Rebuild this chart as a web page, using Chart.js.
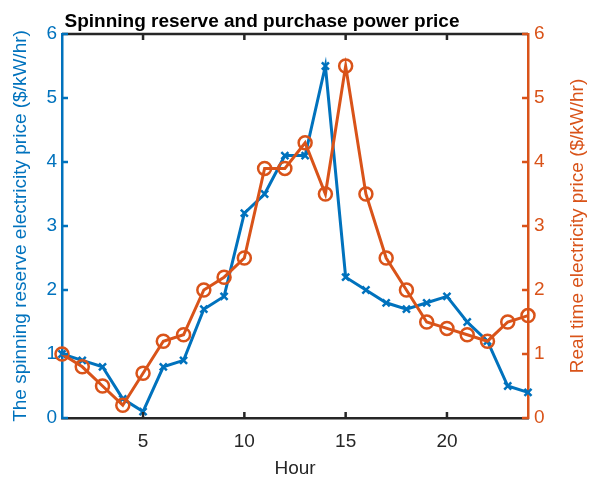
<!DOCTYPE html>
<html>
<head>
<meta charset="utf-8">
<script src="https://cdn.jsdelivr.net/npm/chart.js@4.4.0/dist/chart.umd.min.js"></script>
<style>
  body { margin: 0; background: #fff; }
  #wrap { width: 592px; height: 485px; }
</style>
</head>
<body>
<div id="wrap"><canvas id="chart" width="592" height="485"></canvas></div>
<script>
// data
const hours = [1, 2, 3, 4, 5, 6, 7, 8, 9, 10, 11, 12, 13, 14, 15, 16, 17, 18, 19, 20, 21, 22, 23, 24];
const spinningReserve = [1.0, 0.9, 0.8, 0.3, 0.1, 0.8, 0.9, 1.7, 1.9, 3.2, 3.5, 4.1, 4.1, 5.5, 2.2, 2.0, 1.8, 1.7, 1.8, 1.9, 1.5, 1.2, 0.5, 0.4];
const realTimePrice = [1.0, 0.8, 0.5, 0.2, 0.7, 1.2, 1.3, 2.0, 2.2, 2.5, 3.9, 3.9, 4.3, 3.5, 5.5, 3.5, 2.5, 2.0, 1.5, 1.4, 1.3, 1.2, 1.5, 1.6];
const hourTicks = [5, 10, 15, 20];
const priceTicks = [0, 1, 2, 3, 4, 5, 6];

const chartTitle = 'Spinning reserve and purchase power price';
const rightTitle = 'Real time electricity price ($/kW/hr)';

const BLUE = '#0072BD';
const ORANGE = '#D95319';
const DARK = '#262626';
const FONT = 'Liberation Sans, Arial, Helvetica, sans-serif';

// matlab style box: inward ticks on all four sides + top border,
// plus the title and the right label (which reads bottom-to-top like matlab)
const boxTicks = {
    id: 'boxTicks',
    afterDatasetsDraw(chart) {
        const { ctx, chartArea: a, scales } = chart;
        const len = 6;
        ctx.save();
        ctx.lineWidth = 2.5;
        ctx.strokeStyle = DARK;
        ctx.beginPath();
        ctx.moveTo(a.left, a.top);
        ctx.lineTo(a.right, a.top);
        ctx.stroke();
        hourTicks.forEach(h => {
            const x = scales.x.getPixelForValue(h);
            ctx.beginPath();
            ctx.moveTo(x, a.bottom);
            ctx.lineTo(x, a.bottom - len);
            ctx.moveTo(x, a.top);
            ctx.lineTo(x, a.top + len);
            ctx.stroke();
        });
        ctx.strokeStyle = BLUE;
        priceTicks.forEach(v => {
            const y = scales.y.getPixelForValue(v);
            ctx.beginPath();
            ctx.moveTo(a.left, y);
            ctx.lineTo(a.left + len, y);
            ctx.stroke();
        });
        ctx.strokeStyle = ORANGE;
        priceTicks.forEach(v => {
            const y = scales.y2.getPixelForValue(v);
            ctx.beginPath();
            ctx.moveTo(a.right, y);
            ctx.lineTo(a.right - len, y);
            ctx.stroke();
        });

        // title
        ctx.fillStyle = '#000';
        ctx.font = 'bold 19px ' + FONT;
        ctx.textAlign = 'center';
        ctx.textBaseline = 'alphabetic';
        ctx.fillText(chartTitle, 262, 27);

        // right axis label
        ctx.translate(578, (a.top + a.bottom) / 2);
        ctx.rotate(-Math.PI / 2);
        ctx.fillStyle = ORANGE;
        ctx.font = '19px ' + FONT;
        ctx.textBaseline = 'middle';
        ctx.fillText(rightTitle, 0, 0);
        ctx.restore();
    }
};

const ctx = document.getElementById('chart').getContext('2d');
new Chart(ctx, {
    type: 'line',
    data: {
        datasets: [
            {
                label: 'Spinning reserve',
                data: hours.map((h, i) => ({ x: h, y: spinningReserve[i] })),
                borderColor: BLUE,
                backgroundColor: BLUE,
                borderWidth: 3,
                pointStyle: 'crossRot',
                pointRadius: 5,
                pointBorderWidth: 2.5,
                yAxisID: 'y',
                clip: false,
                order: 2
            },
            {
                label: 'Real time price',
                data: hours.map((h, i) => ({ x: h, y: realTimePrice[i] })),
                borderColor: ORANGE,
                backgroundColor: 'rgba(0,0,0,0)',
                borderWidth: 3,
                pointStyle: 'circle',
                pointRadius: 6.5,
                pointBorderWidth: 2.5,
                yAxisID: 'y2',
                clip: false,
                order: 1
            }
        ]
    },
    options: {
        responsive: false,
        animation: false,
        devicePixelRatio: 1,
        layout: { padding: { left: 0, right: 0, top: 34, bottom: 0 } },
        plugins: {
            legend: { display: false },
            tooltip: { enabled: false },
            title: { display: false }
        },
        scales: {
            x: {
                type: 'linear',
                min: 1,
                max: 24,
                afterBuildTicks: s => { s.ticks = hourTicks.map(v => ({ value: v })); },
                afterFit: s => { s.height = 67; },
                grid: { display: false, drawTicks: false },
                border: { display: true, color: DARK, width: 2.5 },
                ticks: { color: DARK, padding: 12, maxRotation: 0, font: { family: FONT, size: 19 } },
                title: {
                    display: true,
                    text: 'Hour',
                    color: DARK,
                    font: { family: FONT, size: 19 },
                    padding: { top: 0, bottom: 5 }
                }
            },
            y: {
                position: 'left',
                min: 0,
                max: 6,
                afterBuildTicks: s => { s.ticks = priceTicks.map(v => ({ value: v })); },
                afterFit: s => { s.width = 62; },
                grid: { display: false, drawTicks: false },
                border: { display: true, color: BLUE, width: 2.5 },
                ticks: { color: BLUE, padding: 5, font: { family: FONT, size: 19 } },
                title: {
                    display: true,
                    text: 'The spinning reserve electricity price ($/kW/hr)',
                    color: BLUE,
                    font: { family: FONT, size: 19 },
                    padding: { top: 9, bottom: 0 }
                }
            },
            y2: {
                position: 'right',
                min: 0,
                max: 6,
                afterBuildTicks: s => { s.ticks = priceTicks.map(v => ({ value: v })); },
                afterFit: s => { s.width = 64; },
                grid: { display: false, drawTicks: false },
                border: { display: true, color: ORANGE, width: 2.5 },
                ticks: { color: ORANGE, padding: 6, font: { family: FONT, size: 19 } },
                title: { display: false }
            }
        }
    },
    plugins: [boxTicks]
});
</script>
</body>
</html>
